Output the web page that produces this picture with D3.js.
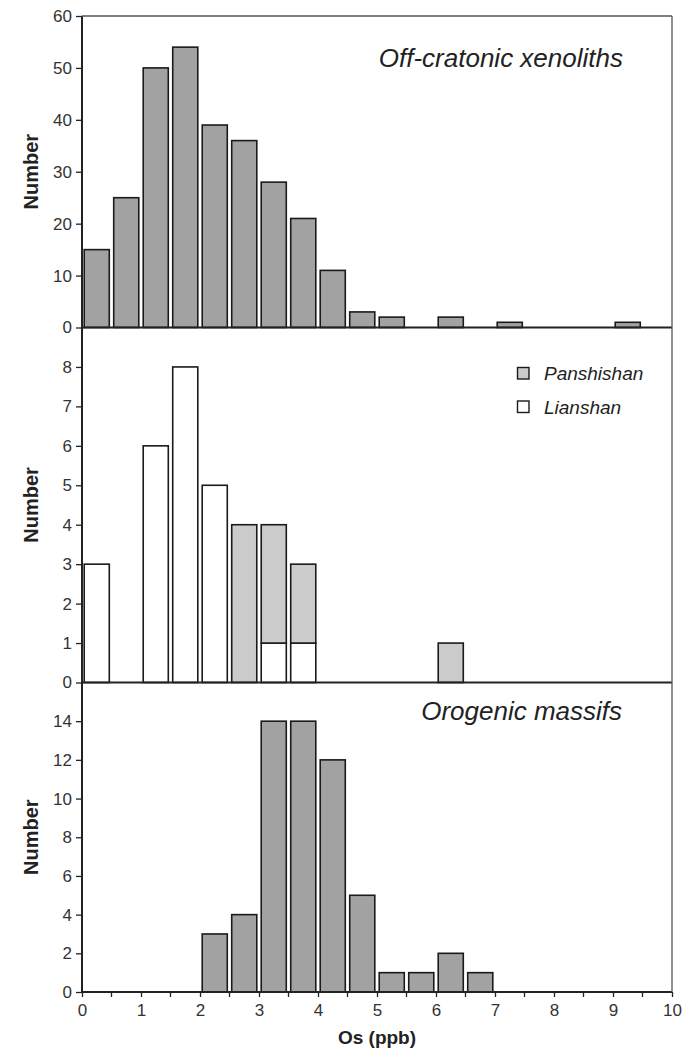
<!DOCTYPE html>
<html>
<head>
<meta charset="utf-8">
<script src="https://cdn.jsdelivr.net/npm/d3@7"></script>
<style>
  html, body { margin: 0; padding: 0; background: #fff; }
  svg { display: block; font-family: "Liberation Sans", Arial, sans-serif; }
</style>
</head>
<body>
<svg id="chart" width="689" height="1050"></svg>
<script>
// Os concentration bins (ppb), lower edge of each 0.5-wide bin
const binStarts = [0, 0.5, 1, 1.5, 2, 2.5, 3, 3.5, 4, 4.5, 5, 5.5, 6, 6.5, 7, 7.5, 8, 8.5, 9, 9.5];

// Counts per bin
const offCratonic = [15, 25, 50, 54, 39, 36, 28, 21, 11, 3, 2, 0, 2, 0, 1, 0, 0, 0, 1, 0];
const lianshan    = [3, 0, 6, 8, 5, 0, 1, 1, 0, 0, 0, 0, 0, 0, 0, 0, 0, 0, 0, 0];
const panshishan  = [0, 0, 0, 0, 0, 4, 3, 2, 0, 0, 0, 0, 1, 0, 0, 0, 0, 0, 0, 0];
const orogenic    = [0, 0, 0, 0, 3, 4, 14, 14, 12, 5, 1, 1, 2, 1, 0, 0, 0, 0, 0, 0];

// Axis ticks
const xTicks = [0, 1, 2, 3, 4, 5, 6, 7, 8, 9, 10];
const xMinorTicks = [0.5, 1.5, 2.5, 3.5, 4.5, 5.5, 6.5, 7.5, 8.5, 9.5];
const topTicks = [0, 10, 20, 30, 40, 50, 60];
const midTicks = [0, 1, 2, 3, 4, 5, 6, 7, 8];
const botTicks = [0, 2, 4, 6, 8, 10, 12, 14];

const svg = d3.select("#chart");
const L = 82, R = 672;
const panels = [
  { top: 16,    bottom: 327.5, max: 60, ticks: topTicks },
  { top: 327.5, bottom: 682.5, max: 9,  ticks: midTicks },
  { top: 682.5, bottom: 992,   max: 16, ticks: botTicks }
];

const x = d3.scaleLinear().domain([0, 10]).range([L, R]);
const band = d3.scaleBand().domain(binStarts).range([L, R]).paddingInner(0.15).paddingOuter(0.075);

const darkFill = "#a2a2a2";
const lightFill = "#cbcbcb";
const stroke = "#1a1a1a";
const tickFont = 17;

panels.forEach(p => {
  p.y = d3.scaleLinear().domain([0, p.max]).range([p.bottom, p.top]);
});

function drawBars(g, values, yScale, fill, base) {
  g.selectAll(null)
    .data(binStarts.map((b, i) => ({ b, v: values[i], base: base ? base[i] : 0 })).filter(d => d.v > 0))
    .join("rect")
    .attr("x", d => band(d.b))
    .attr("width", band.bandwidth())
    .attr("y", d => yScale(d.base + d.v))
    .attr("height", d => yScale(d.base) - yScale(d.base + d.v))
    .attr("fill", fill)
    .attr("stroke", stroke)
    .attr("stroke-width", 1.6);
}

// Bars
drawBars(svg.append("g"), offCratonic, panels[0].y, darkFill);
drawBars(svg.append("g"), lianshan, panels[1].y, "#ffffff");
drawBars(svg.append("g"), panshishan, panels[1].y, lightFill, lianshan);
drawBars(svg.append("g"), orogenic, panels[2].y, darkFill);

// Y axes
panels.forEach(p => {
  const ax = svg.append("g")
    .attr("transform", `translate(${L},0)`)
    .call(d3.axisLeft(p.y).tickValues(p.ticks).tickSize(6).tickPadding(4).tickSizeOuter(0));
  ax.select(".domain").remove();
  ax.selectAll(".tick line").attr("stroke", "#222").attr("stroke-width", 1.3);
  ax.selectAll(".tick text").attr("font-size", tickFont).attr("fill", "#333")
    .attr("font-family", "Liberation Sans, Arial, sans-serif");

  // baseline of panel
  svg.append("line").attr("x1", L).attr("x2", R)
    .attr("y1", p.bottom).attr("y2", p.bottom)
    .attr("stroke", "#222").attr("stroke-width", 2);

  // axis title
  svg.append("text")
    .attr("transform", `translate(38,${(p.top + p.bottom) / 2}) rotate(-90)`)
    .attr("text-anchor", "middle")
    .attr("font-size", 20).attr("font-weight", "bold").attr("fill", "#222")
    .text("Number");
});

// Frame: left axis, right border, top border
svg.append("line").attr("x1", L).attr("x2", L).attr("y1", panels[0].top).attr("y2", panels[2].bottom)
  .attr("stroke", "#222").attr("stroke-width", 2);
svg.append("line").attr("x1", R).attr("x2", R).attr("y1", panels[0].top).attr("y2", panels[2].bottom)
  .attr("stroke", "#555").attr("stroke-width", 1.3);
svg.append("line").attr("x1", L).attr("x2", R).attr("y1", panels[0].top).attr("y2", panels[0].top)
  .attr("stroke", "#555").attr("stroke-width", 1.3);

// X axis (bottom panel)
const xb = panels[2].bottom;
const xAxis = svg.append("g").attr("transform", `translate(0,${xb})`)
  .call(d3.axisBottom(x).tickValues(xTicks).tickSize(5).tickPadding(7).tickSizeOuter(0));
xAxis.select(".domain").remove();
xAxis.selectAll(".tick line").attr("stroke", "#222").attr("stroke-width", 1.3);
xAxis.selectAll(".tick text").attr("font-size", tickFont).attr("fill", "#333")
  .attr("font-family", "Liberation Sans, Arial, sans-serif");
svg.append("g").selectAll("line").data(xMinorTicks).join("line")
  .attr("x1", d => x(d)).attr("x2", d => x(d))
  .attr("y1", xb).attr("y2", xb + 5)
  .attr("stroke", "#222").attr("stroke-width", 1.3);

svg.append("text")
  .attr("x", (L + R) / 2).attr("y", 1044)
  .attr("text-anchor", "middle")
  .attr("font-size", 19).attr("font-weight", "bold").attr("fill", "#222")
  .text("Os (ppb)");

// Panel titles
svg.append("text").attr("x", 623).attr("y", 66.5).attr("text-anchor", "end")
  .attr("font-size", 26).attr("font-style", "italic").attr("fill", "#222")
  .text("Off-cratonic xenoliths");
svg.append("text").attr("x", 622).attr("y", 720).attr("text-anchor", "end")
  .attr("font-size", 26).attr("font-style", "italic").attr("fill", "#222")
  .text("Orogenic massifs");

// Legend
const legendItems = [
  { name: "Panshishan", fill: lightFill, y: 373.5 },
  { name: "Lianshan", fill: "#ffffff", y: 407 }
];
const lg = svg.append("g");
lg.selectAll("rect").data(legendItems).join("rect")
  .attr("x", 517.5).attr("y", d => d.y - 6).attr("width", 11.5).attr("height", 11.5)
  .attr("fill", d => d.fill).attr("stroke", stroke).attr("stroke-width", 1.4);
lg.selectAll("text").data(legendItems).join("text")
  .attr("x", 544).attr("y", d => d.y + 6.5)
  .attr("font-size", 19).attr("font-style", "italic").attr("fill", "#222")
  .text(d => d.name);
</script>
</body>
</html>
